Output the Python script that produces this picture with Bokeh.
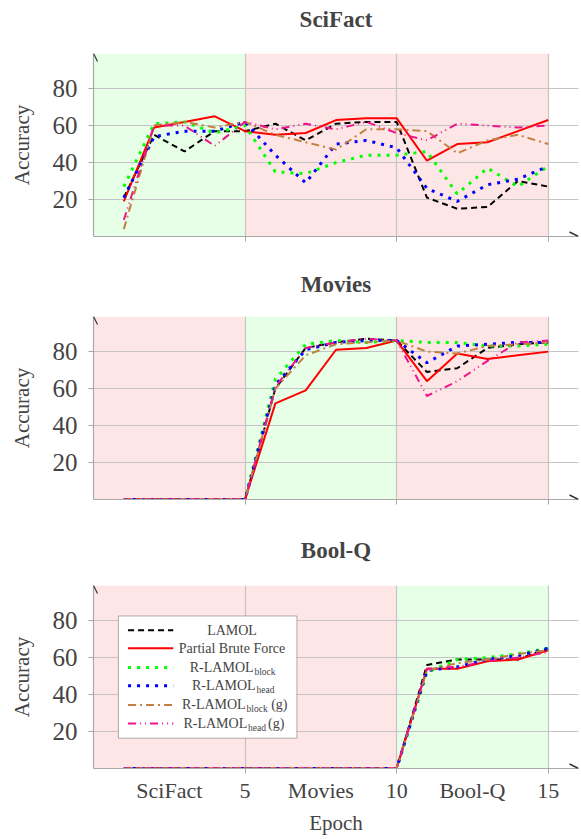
from bokeh.plotting import figure
from bokeh.layouts import column
from bokeh.models import FixedTicker, Arrow, OpenHead, BoxAnnotation, Label, LinearAxis
from bokeh.embed import file_html
from bokeh.resources import INLINE

# ---------------- data ----------------
epochs = list(range(1, 16))
task_names = ["SciFact", "Movies", "Bool-Q"]
task_bounds = [0, 5, 10, 15]
y_ticks = [20, 40, 60, 80]
x_ticks = [5, 10, 15]
x_axis_label = "Epoch"
y_axis_label = "Accuracy"

series_main = ["LAMOL", "Partial Brute Force", "R-LAMOL", "R-LAMOL", "R-LAMOL", "R-LAMOL"]
series_sub = ["", "", "block", "head", "block", "head"]
series_suffix = ["", "", "", "", "(g)", "(g)"]

scifact_lamol = [21, 55, 46, 57, 57, 61, 52, 61, 62, 62, 21, 15, 16, 30, 27]
scifact_pbf = [19, 59, 62, 65, 57, 55, 56, 63, 64, 64, 41, 50, 51, 57, 63]
scifact_rblock = [27, 61, 62, 56, 60, 35, 34, 40, 44, 44, 46, 23, 37, 27, 38]
scifact_rhead = [21, 54, 57, 57, 62, 44, 29, 50, 52, 48, 26, 19, 28, 31, 38]
scifact_rblock_g = [4, 60, 62, 59, 62, 55, 51, 47, 58, 58, 57, 45, 52, 55, 50]
scifact_rhead_g = [9, 60, 60, 49, 62, 58, 61, 58, 62, 56, 52, 61, 60, 59, 60]

movies_lamol = [0, 0, 0, 0, 0, 60, 82, 85, 87, 86, 69, 71, 82, 84, 85]
movies_pbf = [0, 0, 0, 0, 0, 52, 59, 81, 82, 86, 64, 79, 76, 78, 80]
movies_rblock = [0, 0, 0, 0, 0, 65, 84, 86, 85, 86, 85, 85, 83, 83, 84]
movies_rhead = [0, 0, 0, 0, 0, 62, 81, 85, 86, 86, 74, 83, 84, 85, 85]
movies_rblock_g = [0, 0, 0, 0, 0, 60, 78, 84, 85, 86, 80, 79, 83, 84, 85]
movies_rhead_g = [0, 0, 0, 0, 0, 61, 82, 85, 87, 86, 56, 64, 75, 85, 86]

boolq_lamol = [0, 0, 0, 0, 0, 0, 0, 0, 0, 0, 56, 59, 59, 59, 65]
boolq_pbf = [0, 0, 0, 0, 0, 0, 0, 0, 0, 0, 54, 54, 58, 59, 64]
boolq_rblock = [0, 0, 0, 0, 0, 0, 0, 0, 0, 0, 52, 59, 60, 62, 65]
boolq_rhead = [0, 0, 0, 0, 0, 0, 0, 0, 0, 0, 53, 55, 59, 61, 65]
boolq_rblock_g = [0, 0, 0, 0, 0, 0, 0, 0, 0, 0, 53, 57, 59, 62, 64]
boolq_rhead_g = [0, 0, 0, 0, 0, 0, 0, 0, 0, 0, 54, 55, 58, 60, 63]

panels = [
    [scifact_lamol, scifact_pbf, scifact_rblock, scifact_rhead, scifact_rblock_g, scifact_rhead_g],
    [movies_lamol, movies_pbf, movies_rblock, movies_rhead, movies_rblock_g, movies_rhead_g],
    [boolq_lamol, boolq_pbf, boolq_rblock, boolq_rhead, boolq_rblock_g, boolq_rhead_g],
]

# ---------------- styles ----------------
FONT = "Liberation Serif"
GRID = "#c4c4c4"
AXIS = "#a8a8a8"
GREEN_BG = "#e6ffe6"
RED_BG = "#ffe6e6"
styles = [
    dict(color="black", dash="6 4", width=2.0),
    dict(color="#ff0000", dash="solid", width=2.0),
    dict(color="#00ff00", dash="3 6", width=3.0),
    dict(color="#0000ff", dash="3 6", width=3.0),
    dict(color="#c08040", dash="8 4 2 4", width=2.0),
    dict(color="#f0148c", dash="8 4 1 4 1 4", width=2.0),
]

X_END = 16
Y_END = 99
FRAME_H = 183


def make_panel(idx, top, bottom, title_standoff):
    p = figure(width=581, height=top + FRAME_H + bottom, x_range=(0, X_END), y_range=(0, Y_END),
               output_backend="svg", toolbar_location=None,
               min_border_left=93, min_border_right=3,
               min_border_top=top, min_border_bottom=bottom)
    p.outline_line_color = None
    p.background_fill_color = "white"
    p.border_fill_color = "white"

    # panel title: label of an empty axis above the frame
    tax = LinearAxis(ticker=FixedTicker(ticks=[]), axis_label=task_names[idx],
                     axis_line_color=None, major_tick_line_color=None,
                     minor_tick_line_color=None, major_tick_out=0, major_tick_in=0,
                     major_label_standoff=0, major_label_text_font_size="0px",
                     axis_label_standoff=title_standoff,
                     axis_label_text_font=FONT, axis_label_text_font_size="23px",
                     axis_label_text_font_style="bold")
    p.add_layout(tax, "above")

    # task shading
    for t in range(len(task_names)):
        p.add_layout(BoxAnnotation(left=task_bounds[t], right=task_bounds[t + 1],
                                   fill_color=GREEN_BG if t == idx else RED_BG,
                                   fill_alpha=1.0, line_color=None, level="image"))

    # grid
    p.ygrid.ticker = FixedTicker(ticks=y_ticks)
    p.xgrid.ticker = FixedTicker(ticks=x_ticks)
    p.grid.grid_line_color = GRID
    p.grid.grid_line_width = 1.2

    # y axis
    p.yaxis.ticker = FixedTicker(ticks=y_ticks)
    p.yaxis.axis_line_color = AXIS
    p.yaxis.axis_line_width = 1.2
    p.yaxis.major_tick_line_color = AXIS
    p.yaxis.major_tick_in = 0
    p.yaxis.major_tick_out = 5
    p.yaxis.major_label_standoff = 11
    p.yaxis.major_label_text_font = FONT
    p.yaxis.major_label_text_font_size = "25px"
    p.yaxis.axis_label = y_axis_label
    p.yaxis.axis_label_text_font = FONT
    p.yaxis.axis_label_text_font_size = "21px"
    p.yaxis.axis_label_text_font_style = "normal"
    p.yaxis.axis_label_standoff = 16

    # x axis (bottom)
    xax = p.below[0]
    xax.axis_line_color = AXIS
    xax.axis_line_width = 1.2
    xax.major_tick_line_color = AXIS
    xax.minor_tick_line_color = AXIS
    xax.major_tick_in = 0
    xax.minor_tick_in = 0
    xax.major_label_text_font = FONT
    xax.major_label_text_font_size = "22px"
    if idx == len(task_names) - 1:
        mids = [(task_bounds[t] + task_bounds[t + 1]) / 2 for t in range(len(task_names))]
        ticks = sorted(mids + x_ticks)
        xax.ticker = FixedTicker(ticks=ticks, minor_ticks=x_ticks)
        overrides = {m: task_names[t] for t, m in enumerate(mids)}
        overrides.update({x: str(x) for x in x_ticks})
        xax.major_label_overrides = overrides
        xax.major_tick_out = 0
        xax.minor_tick_out = 5
        xax.major_label_standoff = 4
        xax.axis_label = x_axis_label
        xax.axis_label_text_font = FONT
        xax.axis_label_text_font_size = "21px"
        xax.axis_label_text_font_style = "normal"
        xax.axis_label_standoff = 5
    else:
        xax.ticker = FixedTicker(ticks=x_ticks)
        xax.major_tick_out = 5
        xax.minor_tick_out = 0
        xax.major_label_text_color = None

    # series
    for vals, st in zip(panels[idx], styles):
        p.line(epochs, vals, line_color=st["color"], line_width=st["width"],
               line_dash=st["dash"])

    # axis arrows
    p.add_layout(Arrow(x_start=X_END - 0.4, y_start=0, x_end=X_END, y_end=0,
                       line_color=None,
                       end=OpenHead(size=9, line_color="#333333", line_width=1.5)))
    p.add_layout(Arrow(x_start=0, y_start=Y_END - 4, x_end=0, y_end=Y_END,
                       line_color=None,
                       end=OpenHead(size=8, line_color="#333333", line_width=1.2)))
    return p


p1 = make_panel(0, 53, 28, 22)
p2 = make_panel(1, 52, 29, 20)
p3 = make_panel(2, 57, 69, 23)

# ---------------- legend (bottom panel) ----------------
leg_left, leg_right, leg_top, leg_bottom = 0.82, 6.71, 82.5, 16.4
p3.add_layout(BoxAnnotation(left=leg_left, right=leg_right, top=leg_top, bottom=leg_bottom,
                            fill_color="white", fill_alpha=1.0,
                            line_color="black", line_width=1.0))
row_y = [74.8, 65.1, 54.6, 44.7, 34.4, 24.3]
sample_x0, sample_x1 = 1.14, 2.63
center_x = 4.57
junction_x = [None, None, 5.28, 5.35, 5.02, 5.07]
suffix_x = [None, None, None, None, 5.86, 5.76]
LEG_FS = "14px"
for i, st in enumerate(styles):
    y = row_y[i]
    p3.add_layout(Arrow(x_start=sample_x0, y_start=y, x_end=sample_x1, y_end=y, end=None,
                        line_color=st["color"], line_width=st["width"], line_dash=st["dash"]))
    if series_sub[i] == "":
        p3.add_layout(Label(x=center_x, y=y, text=series_main[i], text_align="center",
                            text_baseline="middle", text_font=FONT, text_font_size=LEG_FS))
    else:
        p3.add_layout(Label(x=junction_x[i], y=y, text=series_main[i], text_align="right",
                            text_baseline="middle", text_font=FONT, text_font_size=LEG_FS))
        p3.add_layout(Label(x=junction_x[i] + 0.03, y=y - 2.2, text=series_sub[i], text_align="left",
                            text_baseline="middle", text_font=FONT, text_font_size="9.5px"))
        if series_suffix[i]:
            p3.add_layout(Label(x=suffix_x[i], y=y, text=series_suffix[i], text_align="left",
                                text_baseline="middle", text_font=FONT, text_font_size=LEG_FS))

layout = column(p1, p2, p3)
open("out.html", "w").write(file_html(layout, INLINE))
